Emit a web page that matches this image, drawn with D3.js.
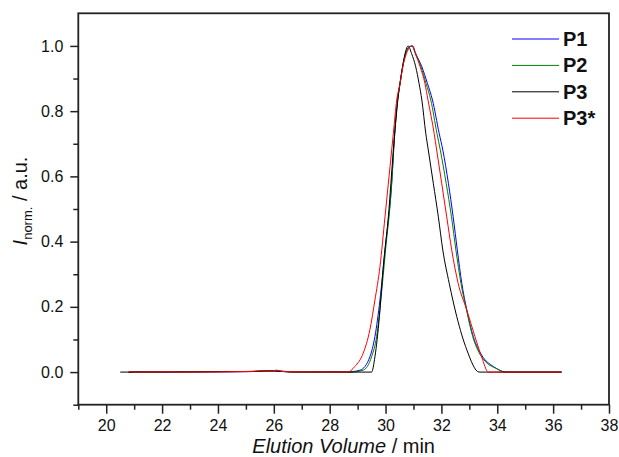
<!DOCTYPE html>
<html>
<head>
<meta charset="utf-8">
<script src="https://cdn.jsdelivr.net/npm/d3@7"></script>
<style>
  body { margin: 0; background: #fff; }
  svg { display: block; font-family: Arial, "Liberation Sans", sans-serif; }
</style>
</head>
<body>
<div id="chart"></div>
<script>
// elution volume (min), normalised intensity
const p1 = [
  [20.8, 0], [21.0, 0.001], [22.0, 0], [25.0, 0.001], [25.6, 0.003], [26.1, 0.004], [26.6, 0.001],
  [28.2, 0.001], [28.6, 0], [29.09, 0.006], [29.44, 0.047], [29.62, 0.109], [29.8, 0.221],
  [29.98, 0.374], [30.22, 0.579], [30.33, 0.732], [30.43, 0.834], [30.52, 0.885], [30.61, 0.936],
  [30.72, 0.977], [30.85, 0.997], [30.97, 1.0], [31.08, 0.977], [31.3, 0.936], [31.5, 0.885],
  [31.68, 0.834], [31.92, 0.732], [32.05, 0.681], [32.25, 0.579], [32.42, 0.476], [32.57, 0.374],
  [32.73, 0.272], [32.91, 0.19], [33.14, 0.109], [33.44, 0.052], [33.86, 0.017], [34.34, 0],
  [36.3, 0]
];
const p2 = [
  [20.8, 0], [22.5, 0.001], [25.4, 0.002], [26.0, 0.003], [26.5, 0.001], [28.7, 0],
  [29.2, 0.006], [29.5, 0.047], [29.68, 0.109], [29.83, 0.221], [30.0, 0.374], [30.22, 0.579],
  [30.32, 0.732], [30.43, 0.834], [30.52, 0.885], [30.61, 0.936], [30.72, 0.977], [30.85, 0.997],
  [30.95, 1.0], [31.07, 0.977], [31.27, 0.936], [31.45, 0.885], [31.62, 0.834], [31.84, 0.732],
  [31.96, 0.681], [32.17, 0.579], [32.36, 0.476], [32.52, 0.374], [32.7, 0.272], [32.9, 0.19],
  [33.12, 0.109], [33.3, 0.068], [33.6, 0.03], [34.0, 0.01], [34.25, 0], [36.3, 0]
];
const p3 = [
  [20.5, 0], [21.0, 0], [25.3, 0.002], [25.8, 0.004], [26.3, 0.002], [26.6, 0], [29.5, 0],
  [29.62, 0.047], [29.78, 0.17], [29.92, 0.323], [30.1, 0.476], [30.28, 0.681], [30.44, 0.834],
  [30.61, 0.936], [30.7, 0.977], [30.81, 1.0], [30.93, 0.977], [31.08, 0.936], [31.2, 0.885],
  [31.3, 0.834], [31.44, 0.732], [31.53, 0.681], [31.71, 0.579], [31.89, 0.476], [32.05, 0.374],
  [32.28, 0.272], [32.55, 0.17], [32.91, 0.068], [33.35, 0], [36.3, 0]
];
const p3s = [
  [20.8, 0], [20.9, 0.002], [21.0, 0], [22.2, 0.001], [22.6, 0], [25.2, 0.002], [25.5, 0.004],
  [25.9, 0.003], [26.1, 0.006], [26.3, 0.002], [26.6, 0.001], [28.64, 0], [28.9, 0.017],
  [29.2, 0.058], [29.44, 0.13], [29.62, 0.221], [29.8, 0.323], [29.98, 0.476], [30.16, 0.63],
  [30.28, 0.732], [30.4, 0.834], [30.52, 0.885], [30.62, 0.936], [30.75, 0.977], [30.95, 1.0],
  [31.06, 0.977], [31.24, 0.936], [31.41, 0.885], [31.52, 0.834], [31.74, 0.732], [31.83, 0.681],
  [32.01, 0.579], [32.19, 0.476], [32.37, 0.374], [32.6, 0.272], [32.91, 0.19], [33.2, 0.109],
  [33.44, 0.047], [33.68, 0], [36.3, 0]
];
const seriesNames = ["P1", "P2", "P3", "P3*"];
const seriesData = [p1, p2, p3, p3s];
const colors = ["#0000ff", "#008000", "#000000", "#ff0000"];

const xTicks = d3.range(20, 39, 2);
const xMinor = d3.range(19, 38, 2);
const yTicks = [0, 0.2, 0.4, 0.6, 0.8, 1.0];
const yMinor = [-0.1, 0.1, 0.3, 0.5, 0.7, 0.9];

const width = 619, height = 457;
const margin = { top: 13.3, right: 10, bottom: 52.3, left: 78.3 };

const svg = d3.select("#chart")
  .append("svg")
  .attr("width", width)
  .attr("height", height)
  .attr("viewBox", [0, 0, width, height]);

const x = d3.scaleLinear()
  .domain([19, 38])
  .range([margin.left, width - margin.right]);

const y = d3.scaleLinear()
  .domain([-0.1, 1.1])
  .range([height - margin.bottom, margin.top]);

// curves
const line = d3.line()
  .curve(d3.curveMonotoneX)
  .x(d => x(d[0]))
  .y(d => y(d[1]));

svg.append("g")
  .attr("fill", "none")
  .attr("stroke-width", 1)
  .selectAll("path")
  .data(seriesData)
  .join("path")
  .attr("stroke", (d, i) => colors[i])
  .attr("d", line);

// axes
const axisColor = "#222";

svg.append("g")
  .attr("transform", `translate(0,${height - margin.bottom})`)
  .call(d3.axisBottom(x).tickValues(xMinor).tickSize(5).tickFormat(""))
  .call(g => g.select(".domain").remove())
  .call(g => g.selectAll(".tick line").attr("stroke", axisColor).attr("stroke-width", 1.5));

svg.append("g")
  .attr("transform", `translate(0,${height - margin.bottom})`)
  .call(d3.axisBottom(x).tickValues(xTicks).tickSize(9).tickPadding(6).tickFormat(d3.format("d")))
  .call(g => g.select(".domain").remove())
  .call(g => g.selectAll(".tick line").attr("stroke", axisColor).attr("stroke-width", 1.5))
  .call(g => g.selectAll(".tick text").attr("font-size", 16).attr("fill", "#111")
    .attr("font-family", "Arial, 'Liberation Sans', sans-serif"));

svg.append("g")
  .attr("transform", `translate(${margin.left},0)`)
  .call(d3.axisLeft(y).tickValues(yMinor).tickSize(5).tickFormat(""))
  .call(g => g.select(".domain").remove())
  .call(g => g.selectAll(".tick line").attr("stroke", axisColor).attr("stroke-width", 1.5));

svg.append("g")
  .attr("transform", `translate(${margin.left},0)`)
  .call(d3.axisLeft(y).tickValues(yTicks).tickSize(8).tickPadding(7).tickFormat(d3.format(".1f")))
  .call(g => g.select(".domain").remove())
  .call(g => g.selectAll(".tick line").attr("stroke", axisColor).attr("stroke-width", 1.5))
  .call(g => g.selectAll(".tick text").attr("font-size", 16).attr("fill", "#111")
    .attr("font-family", "Arial, 'Liberation Sans', sans-serif"));

// frame
svg.append("rect")
  .attr("x", margin.left)
  .attr("y", margin.top)
  .attr("width", width - margin.left - margin.right)
  .attr("height", height - margin.top - margin.bottom)
  .attr("fill", "none")
  .attr("stroke", axisColor)
  .attr("stroke-width", 1.8);

// axis titles
const xTitle = svg.append("text")
  .attr("x", (margin.left + width - margin.right) / 2)
  .attr("y", 453)
  .attr("text-anchor", "middle")
  .attr("font-size", 20)
  .attr("fill", "#111");
xTitle.append("tspan").attr("font-style", "italic").text("Elution Volume");
xTitle.append("tspan").text(" / min");

const yTitle = svg.append("text")
  .attr("transform", "translate(27,201) rotate(-90)")
  .attr("text-anchor", "middle")
  .attr("font-size", 20)
  .attr("fill", "#111");
yTitle.append("tspan").attr("font-style", "italic").text("I");
yTitle.append("tspan").attr("font-size", 13).attr("dy", 5).text("norm.");
yTitle.append("tspan").attr("dy", -5).text(" / a.u.");

// legend
const legend = svg.append("g")
  .selectAll("g")
  .data(seriesNames)
  .join("g")
  .attr("transform", (d, i) => `translate(512,${39 + i * 26.4})`);

legend.append("line")
  .attr("x1", 0)
  .attr("x2", 47)
  .attr("stroke", (d, i) => colors[i])
  .attr("stroke-width", 1);

legend.append("text")
  .attr("x", 51)
  .attr("y", 7)
  .attr("font-size", 20)
  .attr("font-weight", "bold")
  .attr("fill", "#111")
  .text(d => d);
</script>
</body>
</html>
